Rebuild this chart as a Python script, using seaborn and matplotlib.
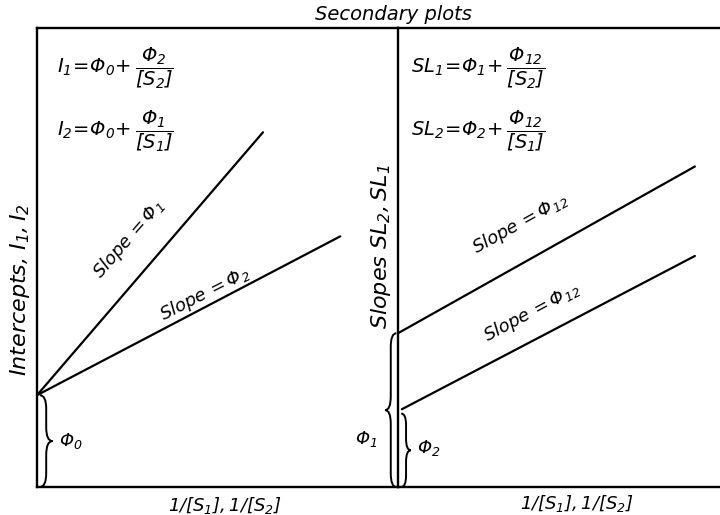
import numpy as np
import pandas as pd
import seaborn as sns
import matplotlib
matplotlib.use("Agg")
import matplotlib.pyplot as plt
from matplotlib.path import Path
from matplotlib.patches import PathPatch

# ---- data (arbitrary units) ----
phi0 = 2.0                      # common intercept, left panel
left_slopes = [0.915, 0.412]    # Phi1, Phi2
left_xend = [6.26, 8.4]
left_labels = [r"Slope$\,=\Phi_1$", r"Slope$\,=\Phi_2$"]

right_intercepts = [3.35, 1.65]  # Phi1, Phi2
right_slopes = [0.394, 0.367]    # Phi12
right_xstart = [0.0, 0.12]
right_xend = [9.22, 9.22]
right_labels = [r"Slope$\,=\Phi_{12}$", r"Slope$\,=\Phi_{12}$"]

eq_left = [r"$I_1\!=\!\Phi_0\!+\dfrac{\Phi_2}{[S_2]}$", r"$I_2\!=\!\Phi_0\!+\dfrac{\Phi_1}{[S_1]}$"]
eq_right = [r"$SL_1\!=\!\Phi_1\!+\dfrac{\Phi_{12}}{[S_2]}$", r"$SL_2\!=\!\Phi_2\!+\dfrac{\Phi_{12}}{[S_1]}$"]
x_label = r"$1/[S_1],1/[S_2]$"
y_label_left = r"Intercepts, $I_1,I_2$"
y_label_right = r"Slopes $SL_2,SL_1$"
title = "Secondary plots"

sns.set_theme(style="white")
plt.rcParams["font.family"] = ["DejaVu Sans"]
plt.rcParams["font.style"] = "italic"
plt.rcParams["text.color"] = "black"
plt.rcParams["mathtext.fontset"] = "custom"
plt.rcParams["mathtext.rm"] = "DejaVu Sans:italic"
plt.rcParams["mathtext.it"] = "DejaVu Sans:italic"
plt.rcParams["mathtext.bf"] = "DejaVu Sans:italic:bold"

W, H = 720, 515
fig = plt.figure(figsize=(7.2, 5.15), dpi=100)
axL = fig.add_axes([37 / W, 28 / H, 361 / W, 459 / H])
axR = fig.add_axes([398 / W, 28 / H, 322 / W, 459 / H])

for ax in (axL, axR):
    ax.set_xlim(0, 10)
    ax.set_ylim(0, 10)
    for s in ax.spines.values():
        s.set_color("black")
        s.set_linewidth(1.7)
axR.spines["right"].set_visible(False)
axL.spines["right"].set_visible(False)


def brace(ax, x0, y0, y1, w, r, color="black"):
    """Curly brace at x0 from y0 to y1, tip at x0+w (w may be negative)."""
    ym = (y0 + y1) / 2
    xm = x0 + w / 2
    verts = [(x0, y0), (xm, y0), (xm, y0 + r),
             (xm, ym - r), (xm, ym), (x0 + w, ym),
             (xm, ym), (xm, ym + r),
             (xm, y1 - r), (xm, y1), (x0, y1)]
    codes = [Path.MOVETO, Path.CURVE3, Path.CURVE3,
             Path.LINETO, Path.CURVE3, Path.CURVE3,
             Path.CURVE3, Path.CURVE3,
             Path.LINETO, Path.CURVE3, Path.CURVE3]
    ax.add_patch(PathPatch(Path(verts, codes), fill=False, lw=1.4, color=color,
                           clip_on=False))


# ---- left panel ----
for m, xe in zip(left_slopes, left_xend):
    df = pd.DataFrame({"x": [0, xe], "y": [phi0, phi0 + m * xe]})
    sns.lineplot(data=df, x="x", y="y", ax=axL, color="black", lw=1.6)

brace(axL, 0.08, 0.0, phi0, 0.35, 0.3)
axL.text(0.6, phi0 / 2, r"$\Phi_0$", fontsize=13, va="center", ha="left")

axL.text(2.55, 5.4, left_labels[0], rotation=49, fontsize=13,
         ha="center", va="center", rotation_mode="anchor")
axL.text(4.65, 4.2, left_labels[1], rotation=27, fontsize=13,
         ha="center", va="center", rotation_mode="anchor")

axL.text(0.55, 9.12, eq_left[0], fontsize=14, ha="left", va="center")
axL.text(0.55, 7.75, eq_left[1], fontsize=14, ha="left", va="center")

# ---- right panel ----
for b, m, xs, xe in zip(right_intercepts, right_slopes, right_xstart, right_xend):
    df = pd.DataFrame({"x": [xs, xe], "y": [b + m * xs, b + m * xe]})
    sns.lineplot(data=df, x="x", y="y", ax=axR, color="black", lw=1.6)

brace(axR, -0.05, 0.0, right_intercepts[0], -0.35, 0.3)
axR.text(-0.65, 1.05, r"$\Phi_1$", fontsize=13, va="center", ha="right")
brace(axR, 0.1, 0.0, right_intercepts[1] - 0.05, 0.3, 0.25)
axR.text(0.6, 0.85, r"$\Phi_2$", fontsize=13, va="center", ha="left")

axR.text(3.8, 5.74, right_labels[0], rotation=29, fontsize=13,
         ha="center", va="center", rotation_mode="anchor")
axR.text(4.15, 3.8, right_labels[1], rotation=28, fontsize=13,
         ha="center", va="center", rotation_mode="anchor")

axR.text(0.4, 9.12, eq_right[0], fontsize=14, ha="left", va="center")
axR.text(0.4, 7.75, eq_right[1], fontsize=14, ha="left", va="center")

for ax in (axL, axR):
    ax.set_xticks([])
    ax.set_yticks([])
    ax.set_xlabel("")
    ax.set_ylabel("")

# axis labels and title as figure text
fig.text(225 / W, 1 - 506 / H, x_label, fontsize=13, ha="center", va="center")
fig.text(577 / W, 1 - 503 / H, x_label, fontsize=13, ha="center", va="center")
fig.text(20 / W, 1 - 290 / H, y_label_left, fontsize=16, rotation=90,
         ha="center", va="center")
fig.text(381 / W, 1 - 247 / H, y_label_right, fontsize=16, rotation=90,
         ha="center", va="center")
fig.text(393 / W, 1 - 14 / H, title, fontsize=14, ha="center", va="center")

fig.savefig("out.png", dpi=100)
